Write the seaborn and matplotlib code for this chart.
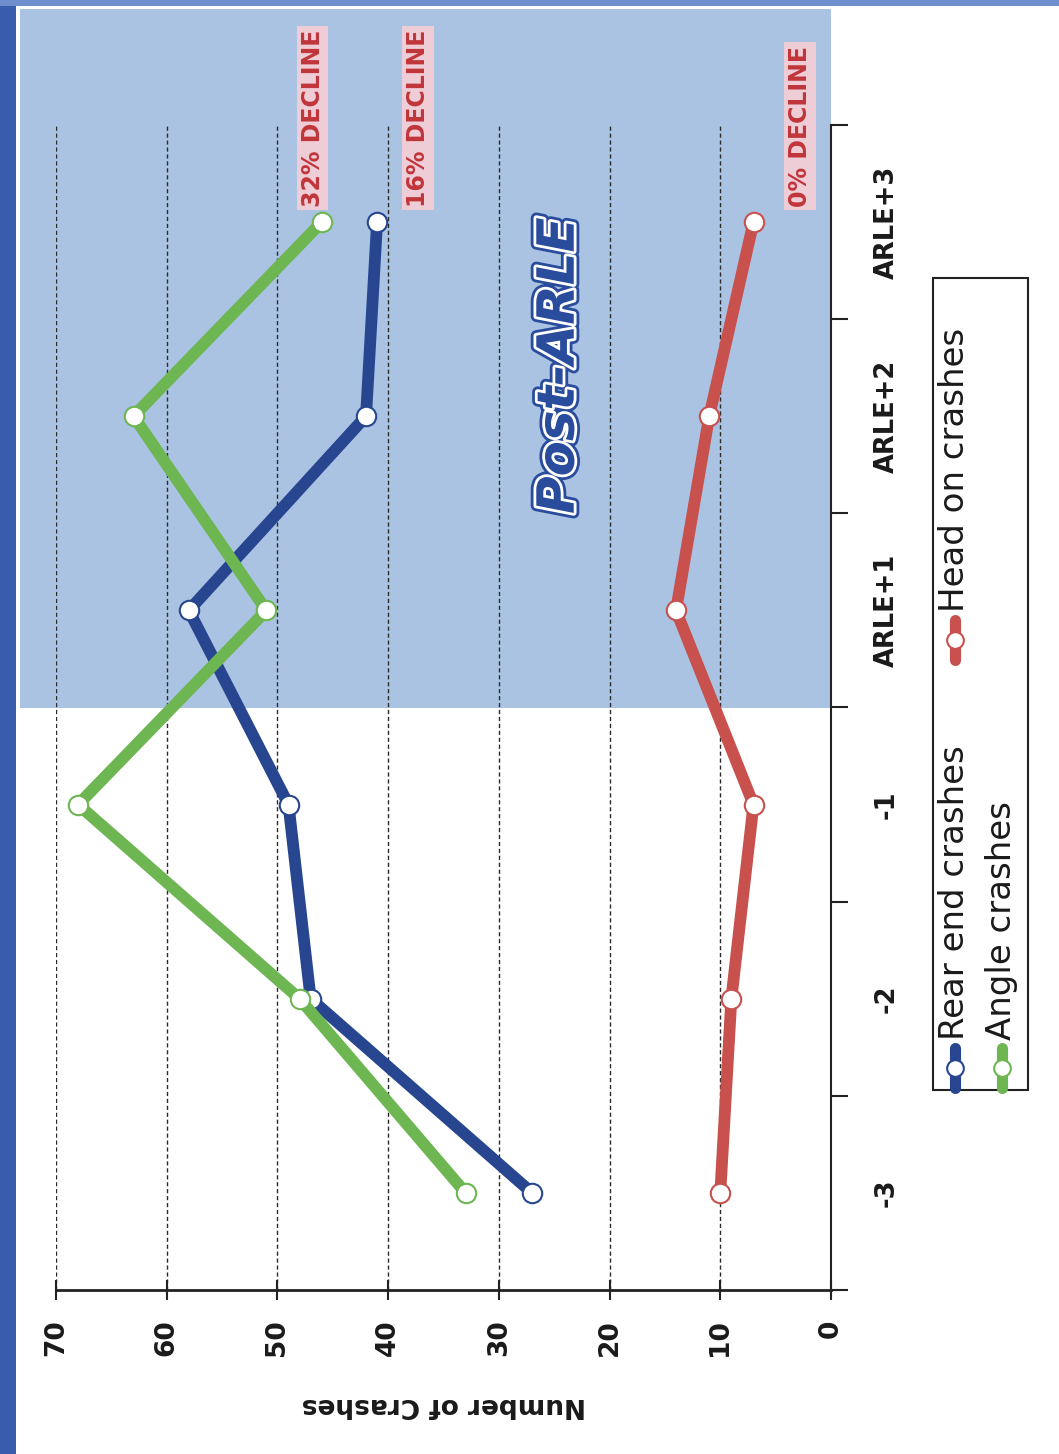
import numpy as np
import pandas as pd
import seaborn as sns
import matplotlib.pyplot as plt
import matplotlib.patheffects as pe
from matplotlib.patches import Rectangle
from matplotlib.lines import Line2D

# ---- data ---------------------------------------------------------------
periods = ["-3", "-2", "-1", "ARLE+1", "ARLE+2", "ARLE+3"]
rear_end = [27, 47, 49, 58, 42, 41]
head_on = [10, 9, 7, 14, 11, 7]
angle = [33, 48, 68, 51, 63, 46]
value_ticks = [0, 10, 20, 30, 40, 50, 60, 70]
series_names = ["Rear end crashes", "Head on crashes", "Angle crashes"]
colors = {"Rear end crashes": "#27468f",
          "Head on crashes": "#c8514e",
          "Angle crashes": "#6db652"}

# ---- style --------------------------------------------------------------
sns.set_style("ticks")
plt.rcParams["font.family"] = ["DejaVu Sans"]

W, H = 1059, 1454
fig = plt.figure(figsize=(W / 100, H / 100), dpi=100, facecolor="white")


def fx(px):
    return px / W


def fy(py):
    return 1 - py / H


# the chart is laid out turned a quarter turn: values run right-to-left
ax = fig.add_axes([fx(56), fy(1290), fx(831) - fx(56), fy(125) - fy(1290)])
ax.set_xlim(70, 0)
ax.set_ylim(-0.5, len(periods) - 0.5)
pos = np.arange(len(periods))

# post-ARLE shaded band, running past the plot edge
ax.add_patch(Rectangle((-0.0465, 2.5), 1.0465, 3.6,
                       transform=ax.get_yaxis_transform(),
                       facecolor="#abc3e3", edgecolor="none",
                       zorder=0.2, clip_on=False))

# ---- series -------------------------------------------------------------
df = pd.DataFrame({
    "period": np.tile(pos, 3),
    "crashes": rear_end + head_on + angle,
    "type": np.repeat(series_names, len(periods)),
})
for name in series_names:
    sub = df[df["type"] == name]
    sns.lineplot(data=sub, x="crashes", y="period", orient="y",
                 estimator=None, color=colors[name], lw=8.5,
                 marker="o", markersize=14, markerfacecolor="white",
                 markeredgecolor=colors[name], markeredgewidth=1.5,
                 legend=False, ax=ax, zorder=3)

# ---- axes ---------------------------------------------------------------
ax.set_axisbelow(True)
ax.set_xticks(value_ticks)
ax.set_xticklabels([str(v) for v in value_ticks], rotation=90,
                   fontsize=19, fontweight="bold", color="#1a1a1a")
ax.grid(axis="x", linestyle=(0, (3, 2)), color="#2a2a2a", lw=1.0)
ax.grid(axis="y", visible=False)
ax.tick_params(axis="x", direction="inout", length=14, width=1.5,
               color="#222222", pad=14)

ax.yaxis.tick_right()
ax.set_yticks(pos)
ax.set_yticklabels(periods, rotation=90, va="center",
                   fontsize=18.5, fontweight="bold", color="#1a1a1a")
ax.set_yticks(np.arange(-0.5, len(periods), 1.0), minor=True)
ax.tick_params(axis="y", which="major", length=0, pad=31)
ax.tick_params(axis="y", which="minor", length=12, width=1.5,
               direction="out", color="#222222", right=True, left=False)

ax.set_xlabel("Number of Crashes", rotation=180, fontsize=19,
              fontweight="bold", color="#1a1a1a", labelpad=26)
ax.set_ylabel("")

for side in ["top", "left"]:
    ax.spines[side].set_visible(False)
ax.spines["bottom"].set_linewidth(2)
ax.spines["bottom"].set_color("#222222")
ax.spines["right"].set_linewidth(1.5)
ax.spines["right"].set_color("#222222")

# ---- annotations --------------------------------------------------------
ax.text(24.5, 4.26, "Post-ARLE", rotation=90, ha="center", va="center",
        fontsize=37, fontweight="bold", style="italic", color="#294c9c",
        zorder=4,
        path_effects=[pe.Stroke(linewidth=8, foreground="#294c9c"),
                      pe.Stroke(linewidth=4, foreground="white"),
                      pe.Normal()])

decline_series = [angle, rear_end, head_on]
decline_offsets = [0.8, -3.7, -4.2]
for vals, off in zip(decline_series, decline_offsets):
    pre, post = vals[2], vals[-1]
    pct = int(round((pre - post) / pre * 100))
    ax.text(post + off, 5.08, f"{pct}% DECLINE", rotation=90,
            ha="center", va="bottom", fontsize=17, fontweight="bold",
            color="#c0353a", clip_on=False, zorder=5,
            bbox=dict(boxstyle="square,pad=0.15", facecolor="#efcdd6",
                      edgecolor="none"))

# ---- legend (turned with the chart) -------------------------------------
fig.add_artist(Rectangle((fx(933), fy(1090)), fx(1028) - fx(933),
                         fy(278) - fy(1090), transform=fig.transFigure,
                         facecolor="white", edgecolor="#222222", lw=1.5,
                         zorder=1))
legend_slots = {"Rear end crashes": (955, 1088, 1040),
                "Angle crashes": (1002, 1088, 1040),
                "Head on crashes": (955, 660, 612)}
for name, (lx, ly_bottom, ty) in legend_slots.items():
    c = colors[name]
    fig.add_artist(Line2D([fx(lx), fx(lx)], [fy(ly_bottom), fy(ly_bottom - 40)],
                          transform=fig.transFigure, color=c, lw=8,
                          solid_capstyle="round", zorder=2))
    fig.add_artist(Line2D([fx(lx)], [fy(ly_bottom - 20)],
                          transform=fig.transFigure, marker="o",
                          markersize=12, markerfacecolor="white",
                          markeredgecolor=c, markeredgewidth=1.5,
                          linestyle="none", zorder=3))
    fig.text(fx(lx), fy(ty), name, rotation=90, ha="center", va="bottom",
             fontsize=24.5, color="#1a1a1a", zorder=4)

# ---- frame strips along the left and top edges --------------------------
fig.add_artist(Rectangle((0, 0), fx(16), 1, transform=fig.transFigure,
                         facecolor="#3a5cac", edgecolor="none", zorder=0))
fig.add_artist(Rectangle((0, fy(6)), 1, 1 - fy(6), transform=fig.transFigure,
                         facecolor="#6f8fcc", edgecolor="none", zorder=0))

fig.savefig("out.png", dpi=100, facecolor="white")
